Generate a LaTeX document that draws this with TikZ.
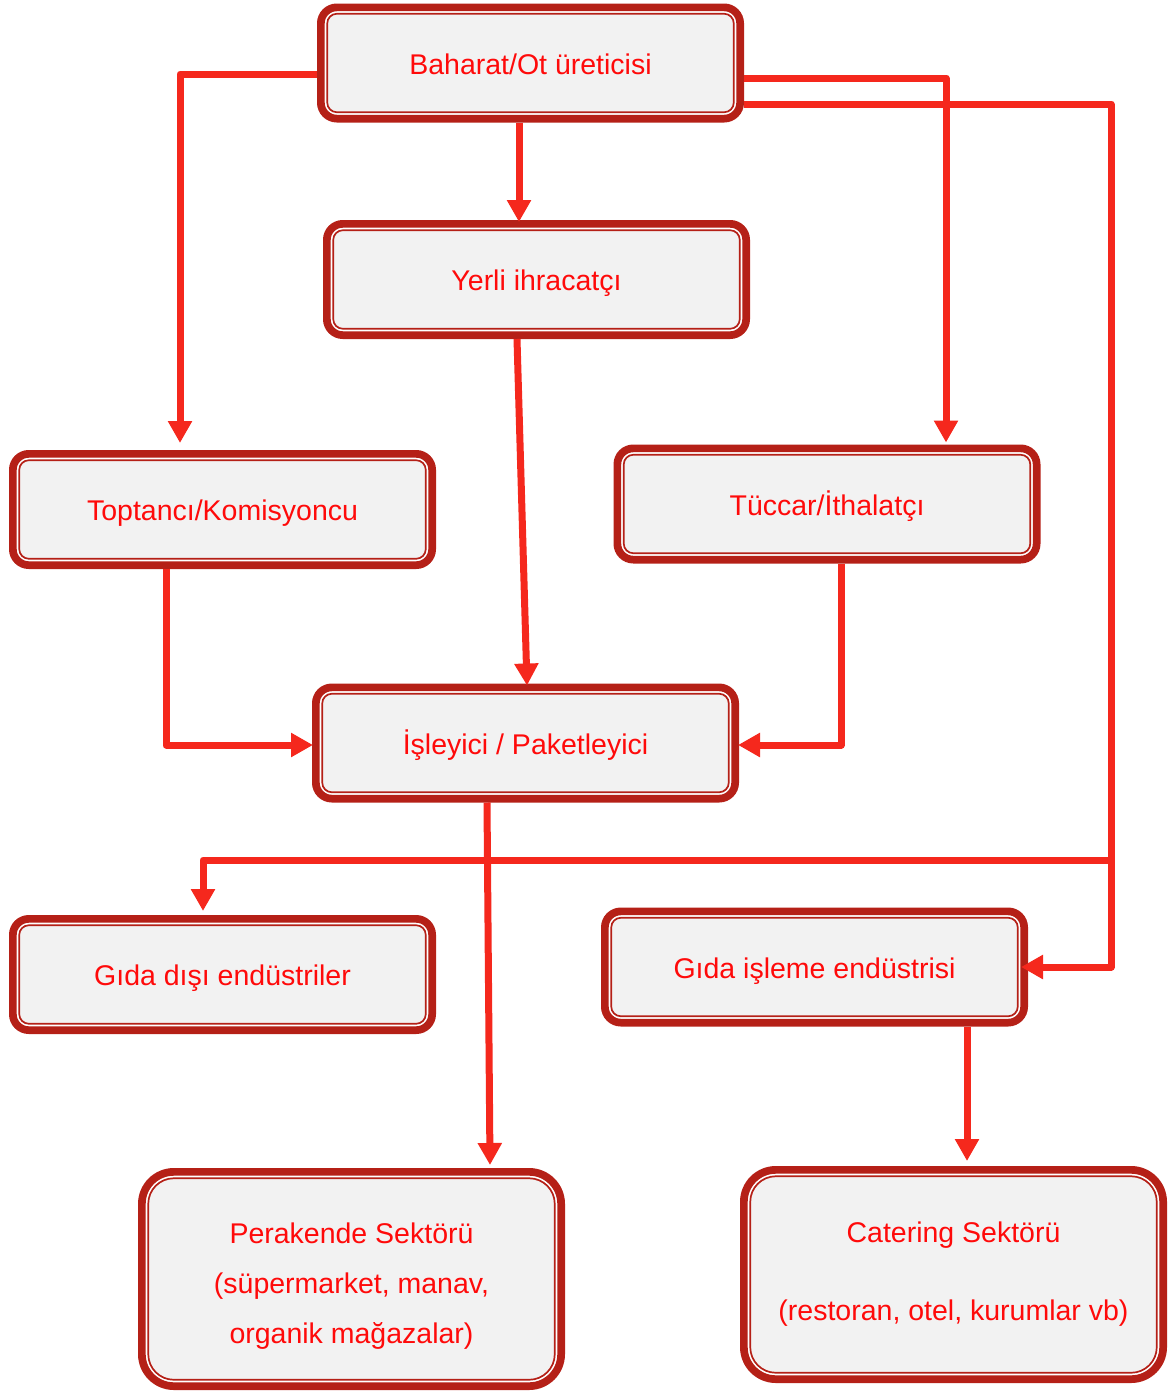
\documentclass[tikz,border=0pt]{standalone}
\usepackage{fontspec}
\setmainfont{Liberation Sans}
\usetikzlibrary{arrows.meta}
\definecolor{bdr}{HTML}{B52017}
\definecolor{arrc}{HTML}{F5281D}
\definecolor{boxfill}{HTML}{F2F2F2}
\definecolor{txt}{HTML}{FF0A0A}
\newcommand{\boxfont}{\fontsize{14.25pt}{25pt}\selectfont}
\tikzset{
  boxbase/.style={draw=bdr, line width=3.85pt, fill=white,
    minimum width=209.65pt, inner sep=0pt,
    text=txt, font=\boxfont, align=center},
  box/.style={boxbase, rounded corners=8pt, minimum height=55.65pt,
    text height=11pt, text depth=0pt,
    path picture={\draw[bdr, line width=0.85pt, fill=boxfill, rounded corners=4.8pt]
      ([shift={(3.2pt,-3.2pt)}]path picture bounding box.north west) rectangle
      ([shift={(-3.2pt,3.2pt)}]path picture bounding box.south east);}},
  bigbox/.style={boxbase, rounded corners=16pt,
    path picture={\draw[bdr, line width=0.85pt, fill=boxfill, rounded corners=12.8pt]
      ([shift={(3.2pt,-3.2pt)}]path picture bounding box.north west) rectangle
      ([shift={(-3.2pt,3.2pt)}]path picture bounding box.south east);}},
  arr/.style={draw=arrc, line width=3.5pt, line join=round,
    -{Triangle[width=11.5pt,length=11pt]}},
}
\begin{document}
\begin{tikzpicture}[x=0.5pt,y=-0.5pt]
\useasboundingbox (0,0) rectangle (1173,1392);
\node[box] (b1) at (530.5,63) {Baharat/Ot üreticisi};
\node[box] (b2) at (536.5,279.5) {Yerli ihracatçı};
\node[box] (b3) at (222.5,509.5) {Toptancı/Komisyoncu};
\node[box] (b4) at (827,504) {Tüccar/İthalatçı};
\node[box] (b5) at (525.5,743) {İşleyici / Paketleyici};
\node[box] (b6) at (222.5,974.5) {Gıda dışı endüstriler};
\node[box] (b7) at (814.5,967) {Gıda işleme endüstrisi};
\node[bigbox, minimum height=107.15pt] (b8) at (351.5,1279) {\rule{0pt}{17.5pt}Perakende Sektörü\\(süpermarket, manav,\\organik mağazalar)};
\node[bigbox, minimum height=104.65pt] (b9) at (953.5,1274.5) {Catering Sektörü\\[14pt](restoran, otel, kurumlar vb)};
\coordinate (c1) at (1111,967);
\coordinate (c2) at (1111,860);
% connectors
\draw[arr] ([yshift=-5.5pt]b1.west) -| ([xshift=-21.25pt,yshift=3.5pt]b3.north);
\draw[arr] ([xshift=-5.75pt]b1.south) -- ([xshift=-8.75pt,yshift=-1pt]b2.north);
\draw[arr] ([yshift=-7.5pt]b1.east) -| ([xshift=59.5pt,yshift=1pt]b4.north);
\draw[arr] ([yshift=-20.5pt]b1.east) -| (c1) -- ([xshift=-3.5pt]b7.east);
\draw[arr] (c2) -| ([xshift=-9.75pt,yshift=2pt]b6.north);
\draw[arr] ([xshift=-9.75pt]b2.south) -- ([xshift=0.75pt,yshift=-1pt]b5.north);
\draw[arr] ([xshift=-28.25pt]b3.south) |- ([xshift=0.5pt,yshift=-1pt]b5.west);
\draw[arr] ([xshift=7pt]b4.south) |- ([xshift=-0.5pt,yshift=-1pt]b5.east);
\draw[arr] ([xshift=-19.25pt]b5.south) -- ([xshift=69.25pt,yshift=1.5pt]b8.north);
\draw[arr] ([xshift=76.25pt]b7.south) -- ([xshift=6.75pt,yshift=2.5pt]b9.north);
\end{tikzpicture}
\end{document}
